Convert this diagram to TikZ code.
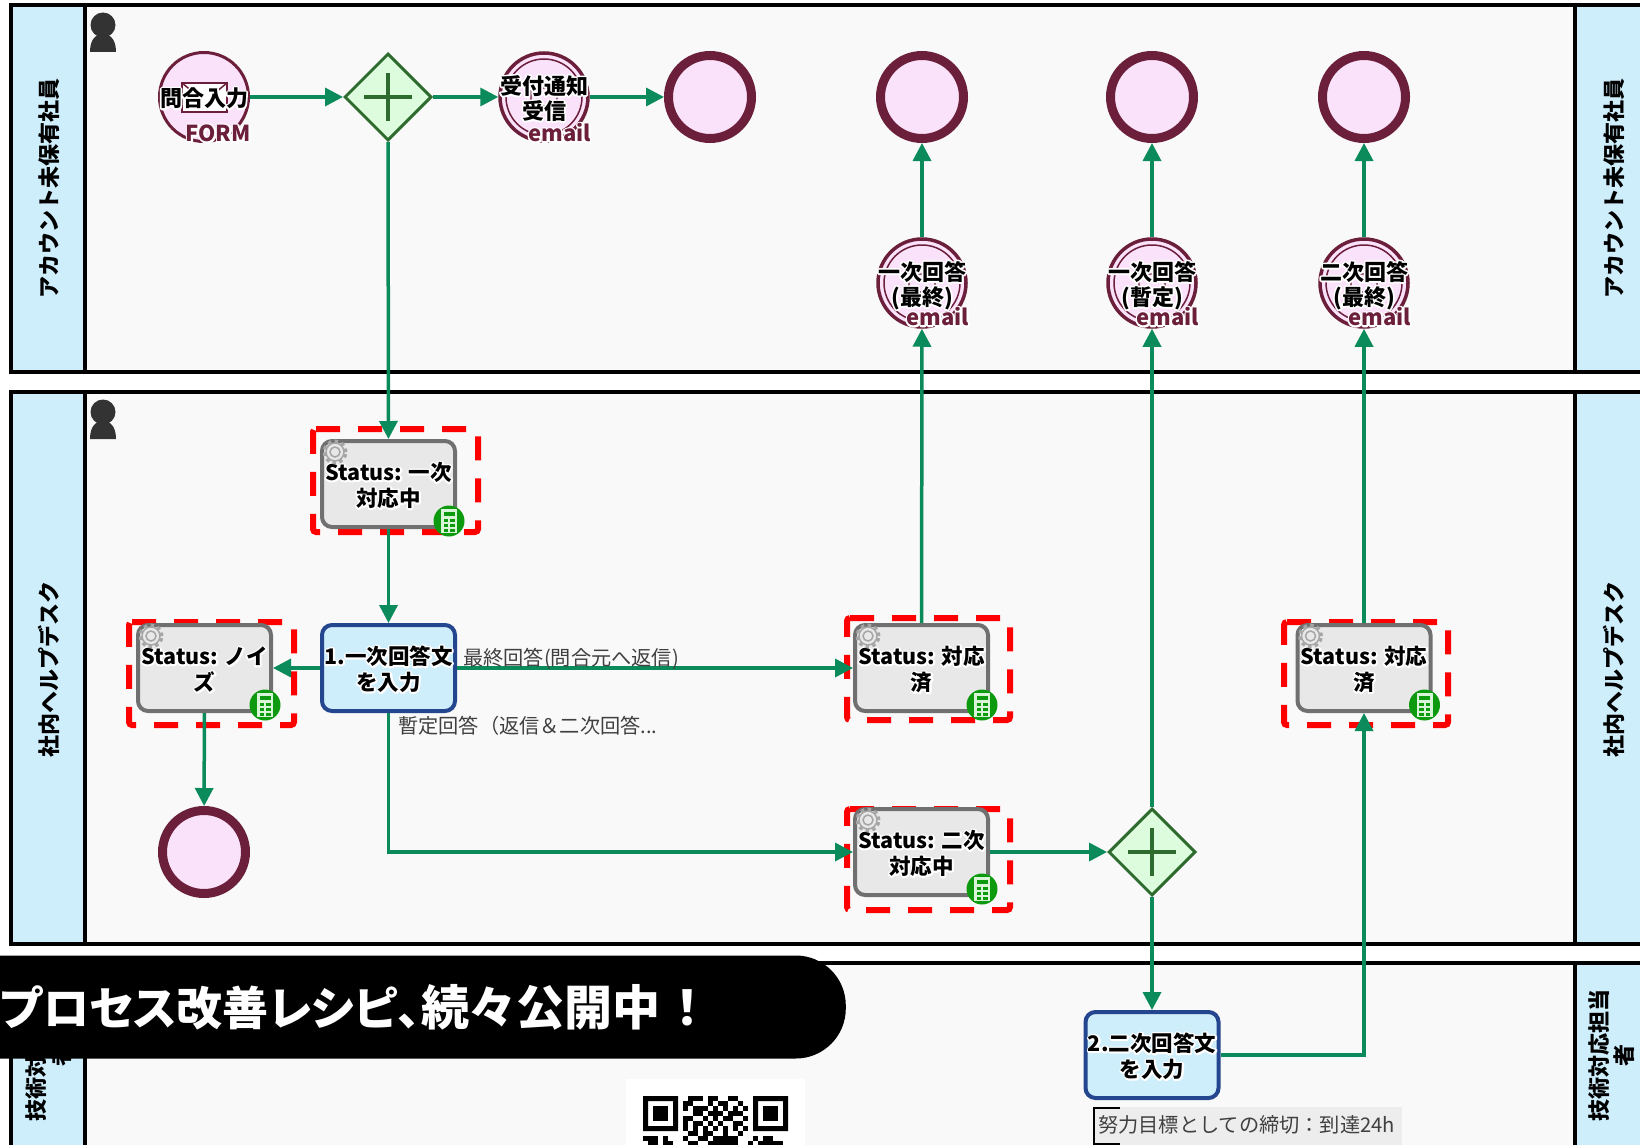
\documentclass[tikz,border=0pt]{standalone}
\usepackage{fontspec}
\setmainfont{Noto Sans CJK JP}
\newfontfamily\bannerfont{Noto Sans CJK JP}[RawFeature=+palt]
\usepackage{tikz}
\usetikzlibrary{shapes.geometric,arrows.meta}
\definecolor{lanehead}{HTML}{CFEEFC}
\definecolor{lanebg}{HTML}{F9F9F9}
\definecolor{maroon}{HTML}{6B1F3A}
\definecolor{eventpink}{HTML}{FBE2FB}
\definecolor{flowgreen}{HTML}{0B8A5C}
\definecolor{gategreen}{HTML}{2E6B2E}
\definecolor{gatefill}{HTML}{DDFBDD}
\definecolor{taskgray}{HTML}{707070}
\definecolor{taskfill}{HTML}{E8E8E8}
\definecolor{userblue}{HTML}{23468F}
\definecolor{iconGreen}{HTML}{0E9A0E}
\definecolor{iconPale}{HTML}{D8F5D8}
% text with a white edge round its letters
\newcommand\hl[1]{\raisebox{-2pt}[0.85em][0.15em]{\rlap{\special{pdf:code 1 Tr 3.4 w 1 1 1 RG 1 j}#1\special{pdf:code 0 Tr 1 w 0 0 0 RG 0 j}}#1}}
% red dashed frame: left, top, right, bottom
\newcommand\redframe[4]{\draw [redbox] (#1,#2) -- (#3,#2) -- (#3,#4) -- (#1,#4) -- cycle;}
% gear and calculator of a status task
\newcommand\taskicons[1]{
\pic at ([shift={(15,13)}]#1.north west) {gearicon};
\pic at ([shift={(-8,-8)}]#1.south east) {calcicon};}
\tikzset{
  lanetext/.style={rotate=90,font=\bfseries\fontsize{22}{25}\selectfont,align=center,inner sep=0pt},
  flow/.style={->,>={Triangle[length=18pt,width=18pt]},draw=flowgreen,line width=3.5pt},
  redbox/.style={draw=red,line width=6pt,rounded corners=3pt,dash pattern=on 24pt off 18pt},
  eventbase/.style={circle,draw=maroon,fill=eventpink,inner sep=-12pt,align=center,
    font=\bfseries\fontsize{22}{25}\selectfont},
  startevent/.style={eventbase,line width=3pt,minimum size=89pt},
  endevent/.style={eventbase,line width=9pt,minimum size=83pt},
  mailevent/.style={eventbase,line width=3.5pt,minimum size=88pt,path picture={
    \draw [maroon,line width=1.5pt] (path picture bounding box.center) circle (38pt);
    \draw [maroon!70,line width=1.5pt] ([shift={(-13,-9)}]path picture bounding box.center)
      rectangle ([shift={(13,9)}]path picture bounding box.center);}},
  tagtext/.style={text=maroon,font=\bfseries\fontsize{22}{25}\selectfont,inner sep=0pt,anchor=east},
  gateway/.style={diamond,draw=gategreen,fill=gatefill,line width=3pt,minimum size=87pt,inner sep=0pt},
  statustask/.style={rectangle,rounded corners=10pt,draw=taskgray,fill=taskfill,line width=4pt,
    minimum width=133pt,minimum height=86pt,inner sep=0pt,align=center,
    font=\bfseries\fontsize{21.5}{26}\selectfont},
  usertask/.style={statustask,draw=userblue,fill=lanehead},
  flowtext/.style={text=black!75,font=\fontsize{20.2}{24}\selectfont,inner sep=0pt,anchor=west},
  calcicon/.pic={
    \fill [iconGreen] (0,0) circle (15.5pt);
    \fill [iconPale] (-8,-12) rectangle (8,12);
    \fill [iconGreen] (-5.5,-9) rectangle (5.5,-5);
    \foreach \cx in {-5.5,1}
      \foreach \cy in {-2,3,8}
        \fill [iconGreen] (\cx,\cy) rectangle +(4.5,3);
  },
  gearicon/.pic={
    \draw [black!35,line width=1.5pt] (0,0) circle (5pt);
    \draw [black!35,line width=1.5pt] (0,0) circle (9pt);
    \draw [black!35,line width=3pt,dash pattern=on 3.5pt off 3.5pt] (0,0) circle (11pt);
  },
  personicon/.pic={
    \fill [black!80] (0,0) ellipse (12.5pt and 12.5pt);
    \fill [black!80] (-13,27) .. controls (-13,13) and (-6,9) .. (0,9)
      .. controls (6,9) and (13,13) .. (13,27) -- cycle;
  },
}
\begin{document}
\begin{tikzpicture}[x=1pt,y=-1pt]
\useasboundingbox (0,0) rectangle (1640,1145);
\fill [white] (0,0) rectangle (1640,1145);

% to draw the lanes
\foreach \ytop/\ybot in {5/372,392/944,963/1180}{
  \fill [lanebg] (85,\ytop) rectangle (1575,\ybot);
  \fill [lanehead] (11,\ytop) rectangle (85,\ybot);
  \fill [lanehead] (1575,\ytop) rectangle (1670,\ybot);
  \draw [line width=3.5pt] (11,\ytop) rectangle (1670,\ybot);
  \draw [line width=3.5pt] (85,\ytop) -- (85,\ybot);
  \draw [line width=3.5pt] (1575,\ytop) -- (1575,\ybot);
}
% to write lane names
\node (headA) [lanetext] at (49,188) {アカウント未保有社員};
\node (headB) [lanetext] at (1614,188) {アカウント未保有社員};
\node (headC) [lanetext] at (49,669) {社内ヘルプデスク};
\node (headD) [lanetext] at (1614,669) {社内ヘルプデスク};
\node (headE) [lanetext] at (49,1055) {技術対応担当\\者};
\node (headF) [lanetext] at (1612,1055) {技術対応担当\\者};
\pic at (103,25) {personicon};
\pic at (103,412) {personicon};

% to draw red frames
\redframe{313}{429}{478}{532}
\redframe{129}{622}{294}{725}
\redframe{847}{618}{1010}{720}
\redframe{847}{809}{1010}{910}
\redframe{1284}{622}{1448}{725}

% Employee lane:
\node (form) [startevent] at (204,97) {};
\fill [white] (182,83) rectangle (227,112);
\draw [maroon,line width=2.5pt] (182,83) rectangle (227,112);
\draw [maroon,line width=1.5pt] (182,83) -- (193,92) (227,83) -- (216,92);
\node (formtext) [font=\bfseries\fontsize{22}{25}\selectfont,inner sep=0pt] at (204,97) {\hl{問合入力}};
\node (formtag) [tagtext] at (251,132) {\hl{FORM}};
\node (gateA) [gateway] at (388,97) {};
\draw [gategreen,line width=4pt] (364,97) -- (412,97) (388,73) -- (388,121);
\node (notice) [mailevent] at (544,97) {\hl{受付通知}\\\hl{受信}};
\node (noticetag) [tagtext] at (591,132) {\hl{email}};
\node (endA) [endevent] at (710,97) {};
\node (endB) [endevent] at (922,97) {};
\node (endC) [endevent] at (1152,97) {};
\node (endD) [endevent] at (1364,97) {};
\node (mailA) [mailevent] at (922,283) {\hl{一次回答}\\\hl{(最終)}};
\node (mailtagA) [tagtext] at (969,316) {\hl{email}};
\node (mailB) [mailevent] at (1152,283) {\hl{一次回答}\\\hl{(暫定)}};
\node (mailtagB) [tagtext] at (1199,316) {\hl{email}};
\node (mailC) [mailevent] at (1364,283) {\hl{二次回答}\\\hl{(最終)}};
\node (mailtagC) [tagtext] at (1411,316) {\hl{email}};

% Help desk lane:
\node (statusA) [statustask] at (388.5,484) {\hl{Status: 一次}\\\hl{対応中}};
\node (answerA) [usertask] at (388.5,668) {\hl{1.一次回答文}\\\hl{を入力}};
\node (statusN) [statustask] at (204.5,668) {\hl{Status: ノイ}\\\hl{ズ}};
\node (endN) [endevent] at (204,852) {};
\node (statusB) [statustask] at (921.5,668) {\hl{Status: 対応}\\\hl{済}};
\node (statusC) [statustask] at (921.5,852) {\hl{Status: 二次}\\\hl{対応中}};
\node (statusD) [statustask] at (1364,668) {\hl{Status: 対応}\\\hl{済}};
\node (gateB) [gateway] at (1152,852) {};
\draw [gategreen,line width=4pt] (1128,852) -- (1176,852) (1152,828) -- (1152,876);

% Technical lane:
\node (answerB) [usertask] at (1152,1055) {\hl{2.二次回答文}\\\hl{を入力}};

% to draw flows
\draw [flow] (form) -- (gateA);
\draw [flow] (gateA) -- (notice);
\draw [flow] (notice) -- (endA);
\draw [flow] (gateA) -- (statusA);
\draw [flow] (statusA) -- (answerA);
\draw [flow] (answerA) -- (statusN);
\draw [flow] (statusN) -- (endN);
\draw [flow] (answerA) -- (statusB);
\draw [flow] (answerA.south) |- (statusC.west);
\draw [flow] (statusC) -- (gateB);
\draw [flow] (statusB) -- (mailA);
\draw [flow] (mailA) -- (endB);
\draw [flow] (gateB) -- (mailB);
\draw [flow] (mailB) -- (endC);
\draw [flow] (gateB) -- (answerB);
\draw [flow] (answerB.east) -| (statusD.south);
\draw [flow] (statusD) -- (mailC);
\draw [flow] (mailC) -- (endD);

% icons on status tasks
\taskicons{statusA}
\taskicons{statusN}
\taskicons{statusB}
\taskicons{statusC}
\taskicons{statusD}

% to write flow texts
\node (flowtextA) [flowtext] at (463,658.5) {最終回答(問合元へ返信)};
\node (flowtextB) [flowtext] at (398,726) {暫定回答（返信＆二次回答...};

% note under the second answer
\fill [black!7] (1093,1107) rectangle (1402,1145);
\node (note) [flowtext] at (1098,1125) {努力目標としての締切：到達24h};
\draw [line width=1.5pt] (1120,1108) -- (1094,1108) -- (1094,1144) -- (1120,1144);

% banner and QR code
\node (banner) [fill=black,rounded corners=50pt,minimum width=940pt,minimum height=103pt,
  anchor=east,inner sep=0pt] at (846,1007) {};
\node (bannertext) [text=white,font=\bannerfont\bfseries\fontsize{46}{50}\selectfont,inner sep=0pt,anchor=west]
  at (0,1007) {プロセス改善レシピ、{\fontsize{48}{50}\selectfont 続々公開中\hspace{15pt}！}};
\fill [white] (626,1079) rectangle (805,1145);
\begin{scope}[shift={(643,1096)},x=5pt,y=-5pt]
\foreach \fx in {0,22}{
  \fill [even odd rule] (\fx,0) rectangle +(7,7) (\fx+1,1) rectangle +(5,5);
  \fill (\fx+2,2) rectangle +(3,3);
}
\foreach \r/\cols in {0/{9,10,11,13,14,17,18},1/{8,9,13,15,16,19},2/{8,10,11,12,14,16,18,20},
  3/{10,11,13,14,15,17,18,19},4/{8,9,12,14,16,17,20},5/{8,10,11,13,15,18,19},
  6/{8,10,12,14,16,18,20},7/{9,10,12,13,16,19},8/{0,1,2,4,8,11,12,14,15,16,17,18,22,24,25},
  9/{1,2,4,5,9,10,13,14,15,16,17,18,21,23,24,25,26,27}}
  \foreach \c in \cols
    \fill (\c,\r) rectangle +(1,1);
\end{scope}
\end{tikzpicture}
\end{document}
